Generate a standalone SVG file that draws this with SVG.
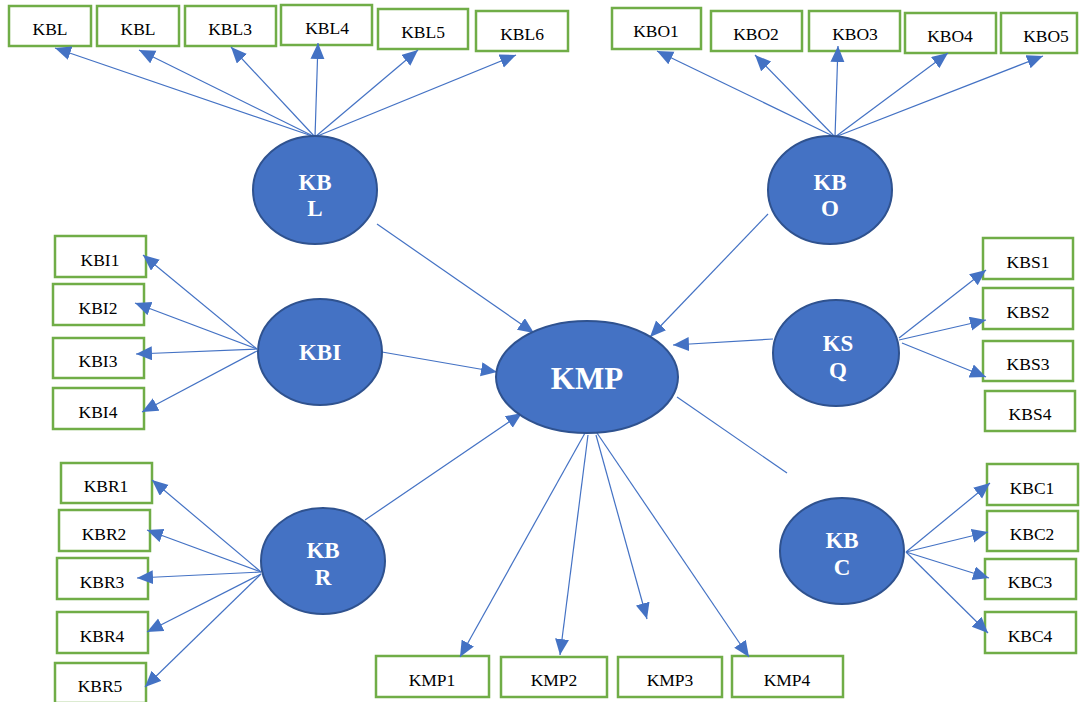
<svg xmlns="http://www.w3.org/2000/svg" width="1087" height="702" viewBox="0 0 1087 702">
<style>
.box rect{fill:#fff;stroke:#70AD47;stroke-width:2.5}
.box text{font-family:"Liberation Serif","Times New Roman",serif;font-size:17.5px;fill:#000;text-anchor:middle}
.lat ellipse{fill:#4472C4;stroke:#2F528F;stroke-width:2}
.lat text{font-family:"Liberation Serif","Times New Roman",serif;font-weight:bold;font-size:23px;fill:#fff;text-anchor:middle}
#connectors line{stroke:#4472C4;stroke-width:1.2;fill:none}
#connectors line.a{marker-end:url(#arr)}
</style>
<defs>
<marker id="arr" markerUnits="userSpaceOnUse" markerWidth="17" markerHeight="15" refX="16" refY="7" orient="auto">
<path d="M0,0 L16,7 L0,14 z" fill="#4472C4"/>
</marker>
</defs>
<rect width="1087" height="702" fill="#fff"/>
<g id="KBL1" class="box"><rect x="9" y="6" width="82" height="40"/><text x="50" y="35">KBL</text></g>
<g id="KBL2" class="box"><rect x="97" y="6" width="82" height="40"/><text x="138" y="35">KBL</text></g>
<g id="KBL3" class="box"><rect x="185" y="6" width="91" height="40"/><text x="230" y="35">KBL3</text></g>
<g id="KBL4" class="box"><rect x="281" y="5" width="91" height="40"/><text x="327" y="34">KBL4</text></g>
<g id="KBL5" class="box"><rect x="378" y="9" width="90" height="40"/><text x="423" y="38">KBL5</text></g>
<g id="KBL6" class="box"><rect x="476" y="11" width="92" height="40"/><text x="522" y="40">KBL6</text></g>
<g id="KBO1" class="box"><rect x="612" y="8" width="89" height="41"/><text x="656" y="37">KBO1</text></g>
<g id="KBO2" class="box"><rect x="711" y="11" width="91" height="40"/><text x="756" y="40">KBO2</text></g>
<g id="KBO3" class="box"><rect x="809" y="11" width="91" height="40"/><text x="855" y="40">KBO3</text></g>
<g id="KBO4" class="box"><rect x="905" y="13" width="91" height="40"/><text x="950" y="42">KBO4</text></g>
<g id="KBO5" class="box"><rect x="1001" y="13" width="76" height="40"/><text x="1046" y="42">KBO5</text></g>
<g id="KBI1" class="box"><rect x="55" y="236" width="91" height="41"/><text x="100" y="266">KBI1</text></g>
<g id="KBI2" class="box"><rect x="53" y="284" width="91" height="41"/><text x="98" y="314">KBI2</text></g>
<g id="KBI3" class="box"><rect x="53" y="338" width="91" height="40"/><text x="98" y="367">KBI3</text></g>
<g id="KBI4" class="box"><rect x="53" y="388" width="91" height="41"/><text x="98" y="418">KBI4</text></g>
<g id="KBR1" class="box"><rect x="61" y="463" width="91" height="40"/><text x="106" y="492">KBR1</text></g>
<g id="KBR2" class="box"><rect x="59" y="510" width="91" height="41"/><text x="104" y="540">KBR2</text></g>
<g id="KBR3" class="box"><rect x="57" y="558" width="91" height="41"/><text x="102" y="588">KBR3</text></g>
<g id="KBR4" class="box"><rect x="57" y="612" width="91" height="41"/><text x="102" y="642">KBR4</text></g>
<g id="KBR5" class="box"><rect x="55" y="663" width="91" height="40"/><text x="100" y="692">KBR5</text></g>
<g id="KBS1" class="box"><rect x="983" y="238" width="90" height="41"/><text x="1028" y="268">KBS1</text></g>
<g id="KBS2" class="box"><rect x="983" y="288" width="90" height="41"/><text x="1028" y="318">KBS2</text></g>
<g id="KBS3" class="box"><rect x="983" y="341" width="90" height="40"/><text x="1028" y="370">KBS3</text></g>
<g id="KBS4" class="box"><rect x="985" y="391" width="90" height="40"/><text x="1030" y="420">KBS4</text></g>
<g id="KBC1" class="box"><rect x="987" y="464" width="91" height="41"/><text x="1032" y="494">KBC1</text></g>
<g id="KBC2" class="box"><rect x="987" y="511" width="91" height="40"/><text x="1032" y="540">KBC2</text></g>
<g id="KBC3" class="box"><rect x="985" y="559" width="91" height="40"/><text x="1030" y="588">KBC3</text></g>
<g id="KBC4" class="box"><rect x="985" y="612" width="91" height="41"/><text x="1030" y="642">KBC4</text></g>
<g id="KMP1" class="box"><rect x="376" y="656" width="113" height="41"/><text x="432" y="686">KMP1</text></g>
<g id="KMP2" class="box"><rect x="501" y="657" width="106" height="40"/><text x="554" y="686">KMP2</text></g>
<g id="KMP3" class="box"><rect x="618" y="657" width="104" height="40"/><text x="670" y="686">KMP3</text></g>
<g id="KMP4" class="box"><rect x="732" y="656" width="111" height="41"/><text x="787" y="686">KMP4</text></g>
<g id="connectors">
<line class="a" x1="315" y1="137" x2="55" y2="48"/>
<line class="a" x1="315" y1="137" x2="139" y2="50"/>
<line class="a" x1="315" y1="137" x2="231" y2="47"/>
<line class="a" x1="315" y1="137" x2="318" y2="43"/>
<line class="a" x1="315" y1="137" x2="418" y2="50"/>
<line class="a" x1="315" y1="137" x2="516" y2="55"/>
<line class="a" x1="835" y1="137" x2="657" y2="51"/>
<line class="a" x1="835" y1="137" x2="755" y2="55"/>
<line class="a" x1="835" y1="137" x2="838" y2="46"/>
<line class="a" x1="835" y1="137" x2="948" y2="53"/>
<line class="a" x1="835" y1="137" x2="1043" y2="56"/>
<line class="a" x1="257" y1="349" x2="143" y2="255"/>
<line class="a" x1="257" y1="349" x2="135" y2="303"/>
<line class="a" x1="257" y1="349" x2="136" y2="354"/>
<line class="a" x1="257" y1="351" x2="142" y2="412"/>
<line class="a" x1="261" y1="572" x2="152" y2="480"/>
<line class="a" x1="261" y1="572" x2="147" y2="530"/>
<line class="a" x1="261" y1="572" x2="137" y2="578"/>
<line class="a" x1="261" y1="574" x2="147" y2="632"/>
<line class="a" x1="261" y1="574" x2="145" y2="687"/>
<line class="a" x1="899" y1="338" x2="986" y2="270"/>
<line class="a" x1="899" y1="340" x2="986" y2="320"/>
<line class="a" x1="902" y1="343" x2="986" y2="377"/>
<line class="a" x1="906" y1="552" x2="990" y2="483"/>
<line class="a" x1="906" y1="552" x2="988" y2="532"/>
<line class="a" x1="906" y1="552" x2="989" y2="578"/>
<line class="a" x1="906" y1="552" x2="988" y2="633"/>
<line class="a" x1="377" y1="224" x2="534" y2="333"/>
<line class="a" x1="382" y1="352" x2="497" y2="372"/>
<line class="a" x1="365" y1="520" x2="522" y2="413"/>
<line class="a" x1="768" y1="214" x2="650" y2="337"/>
<line class="a" x1="773" y1="339" x2="673" y2="345"/>
<line x1="677" y1="397" x2="787" y2="473"/>
<line class="a" x1="585" y1="433" x2="460" y2="657"/>
<line class="a" x1="588" y1="435" x2="560" y2="655"/>
<line class="a" x1="596" y1="435" x2="647" y2="619"/>
<line class="a" x1="597" y1="433" x2="749" y2="657"/>
</g>
<g id="KBL" class="lat"><ellipse cx="315" cy="190" rx="62" ry="54"/><text x="315" y="190">KB</text><text x="315" y="216">L</text></g>
<g id="KBO" class="lat"><ellipse cx="830" cy="190" rx="62" ry="54"/><text x="830" y="190">KB</text><text x="830" y="216">O</text></g>
<g id="KBI" class="lat"><ellipse cx="320" cy="352" rx="62" ry="53"/><text x="320" y="360">KBI</text></g>
<g id="KMP" class="lat"><ellipse cx="587" cy="377" rx="91" ry="56"/><text x="587" y="389" style="font-size:31px">KMP</text></g>
<g id="KSQ" class="lat"><ellipse cx="836" cy="353" rx="63" ry="53"/><text x="838" y="351">KS</text><text x="838" y="378">Q</text></g>
<g id="KBR" class="lat"><ellipse cx="323" cy="561" rx="62" ry="53"/><text x="323" y="558">KB</text><text x="323" y="585">R</text></g>
<g id="KBC" class="lat"><ellipse cx="842" cy="551" rx="62" ry="53"/><text x="842" y="548">KB</text><text x="842" y="575">C</text></g>
</svg>
